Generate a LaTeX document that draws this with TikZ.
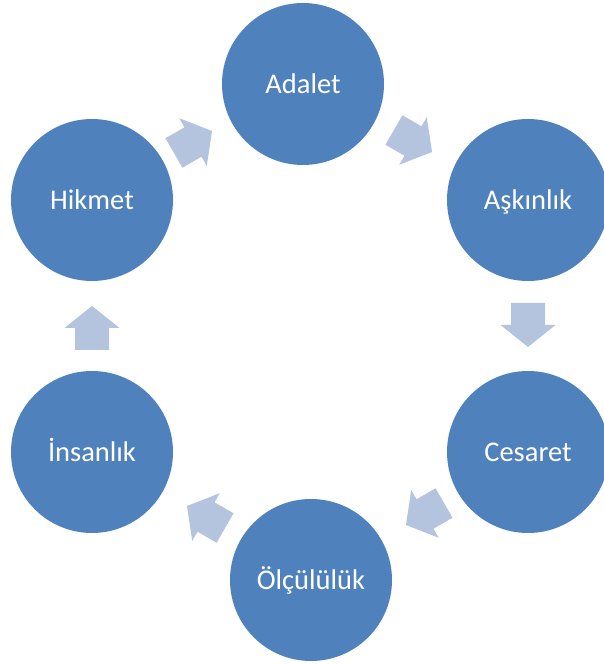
\documentclass[tikz,border=0pt]{standalone}
\usepackage{fontspec}
\setmainfont{Carlito}
\usetikzlibrary{positioning}

\definecolor{virtueblue}{RGB}{79,129,189}
\definecolor{flowblue}{RGB}{180,195,222}

\tikzset{
  cyclearrow/.pic={
    \fill[flowblue] (-22,-17) -- (0,-17) -- (0,-27.5) -- (22,0) -- (0,27.5) -- (0,17) -- (-22,17) -- cycle;
  }
}

\begin{document}
\begin{tikzpicture}[
  x=1pt, y=1pt,
  virtue/.style={circle, fill=virtueblue, text=white, minimum size=162pt, inner sep=0pt,
    text height=19pt, text depth=0pt, font=\fontsize{28.5}{34}\selectfont}
]
\useasboundingbox (0,0) rectangle (603,664);

\node[virtue] (adalet) at (303,580) {Adalet};
\node[virtue] (askinlik) at (528,464) {Aşkınlık};
\node[virtue] (cesaret) at (528,212) {Cesaret};
\node[virtue] (olculuk) at (311,84) {Ölçülülük};
\node[virtue] (insanlik) at (92,212) {İnsanlık};
\node[virtue] (hikmet) at (92,464) {Hikmet};

% arrows between the circles
\pic[rotate=-30] at (413,523) {cyclearrow};
\pic[rotate=-90] at (528,339) {cyclearrow};
\pic[rotate=210] at (425,150) {cyclearrow};
\pic[rotate=150] at (206,147) {cyclearrow};
\pic[rotate=90] at (92,336) {cyclearrow};
\pic[rotate=30] at (193,522) {cyclearrow};
\end{tikzpicture}
\end{document}
